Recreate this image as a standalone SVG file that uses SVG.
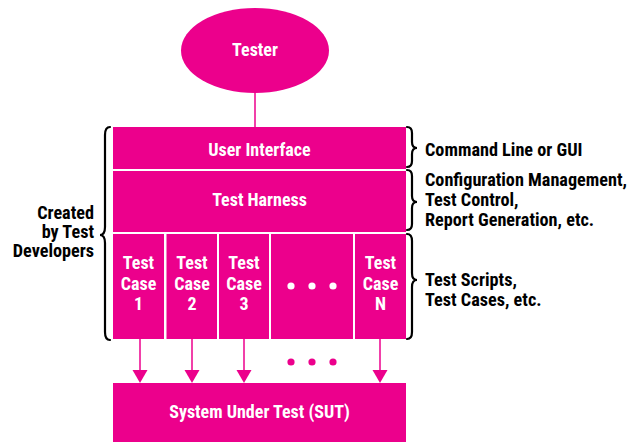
<svg xmlns="http://www.w3.org/2000/svg" width="634" height="442" viewBox="0 0 634 442">
<defs>
<style>
.box{fill:#EC008C;}
.w{fill:#fff;font-family:"Liberation Sans Narrow","Roboto Condensed","DejaVu Sans Condensed",sans-serif;font-weight:bold;font-size:18px;text-anchor:middle;}
.k{fill:#000;font-family:"Liberation Sans Narrow","Roboto Condensed","DejaVu Sans Condensed",sans-serif;font-weight:bold;font-size:18.2px;}
.conn{stroke:#EC008C;stroke-width:1.5;fill:none;}
.brace{stroke:#000;stroke-width:2.2;fill:none;stroke-linecap:round;}
.dot{fill:#fff;}
.pdot{fill:#EC008C;}
.head{fill:#EC008C;}
</style>
</defs>
<rect width="634" height="442" fill="#fff"/>

<g id="connectors">
<line class="conn" x1="255" y1="92" x2="255" y2="127"/>
<line x1="140" y1="339" x2="140" y2="370" class="conn"/>
<path class="head" d="M132.5 370 L147.5 370 L140 383 Z"/>
<line x1="192" y1="339" x2="192" y2="370" class="conn"/>
<path class="head" d="M184.5 370 L199.5 370 L192 383 Z"/>
<line x1="244" y1="339" x2="244" y2="370" class="conn"/>
<path class="head" d="M236.5 370 L251.5 370 L244 383 Z"/>
<line x1="380" y1="339" x2="380" y2="370" class="conn"/>
<path class="head" d="M372.5 370 L387.5 370 L380 383 Z"/>
<circle class="pdot" cx="291" cy="362" r="3.6"/>
<circle class="pdot" cx="312" cy="362" r="3.6"/>
<circle class="pdot" cx="333" cy="362" r="3.6"/>
</g>

<g id="tester">
<ellipse class="box" cx="255" cy="50.5" rx="74" ry="42.5"/>
<text class="w" x="255" y="56">Tester</text>
</g>

<g id="user-interface">
<rect class="box" x="113" y="127" width="293" height="42"/>
<text class="w" x="259.5" y="156">User Interface</text>
</g>

<g id="test-harness">
<rect class="box" x="113" y="171" width="293" height="61"/>
<text class="w" x="259.5" y="206">Test Harness</text>
</g>

<g id="test-case-1">
<rect class="box" x="113" y="234" width="51" height="105"/>
<text class="w" x="138.5" y="268.5">Test</text>
<text class="w" x="138.5" y="289.5">Case</text>
<text class="w" x="138.5" y="310">1</text>
</g>
<g id="test-case-2">
<rect class="box" x="166.5" y="234" width="50.5" height="105"/>
<text class="w" x="192" y="268.5">Test</text>
<text class="w" x="192" y="289.5">Case</text>
<text class="w" x="192" y="310">2</text>
</g>
<g id="test-case-3">
<rect class="box" x="219" y="234" width="50" height="105"/>
<text class="w" x="244" y="268.5">Test</text>
<text class="w" x="244" y="289.5">Case</text>
<text class="w" x="244" y="310">3</text>
</g>
<g id="test-case-more">
<rect class="box" x="271" y="234" width="82" height="105"/>
<circle class="dot" cx="291" cy="286" r="3.6"/>
<circle class="dot" cx="312" cy="286" r="3.6"/>
<circle class="dot" cx="333" cy="286" r="3.6"/>
</g>
<g id="test-case-n">
<rect class="box" x="355" y="234" width="51" height="105"/>
<text class="w" x="380.5" y="268.5">Test</text>
<text class="w" x="380.5" y="289.5">Case</text>
<text class="w" x="380.5" y="310">N</text>
</g>

<g id="sut">
<rect class="box" x="113" y="383" width="293" height="59"/>
<text class="w" x="259.5" y="418">System Under Test (SUT)</text>
</g>

<g id="brace-left">
<path class="brace" d="M110 127 Q105 127 105 135 L105 227 Q105 235 100 235 Q105 235 105 243 L105 332 Q105 340 110 340"/>
<text class="k" x="94" y="219" text-anchor="end">Created</text>
<text class="k" x="94" y="238" text-anchor="end">by Test</text>
<text class="k" x="94" y="257" text-anchor="end">Developers</text>
</g>

<g id="brace-ui">
<path class="brace" d="M407 127 Q412 127 412 133 L412 142 Q412 148 417 148 Q412 148 412 154 L412 161 Q412 167 407 167"/>
<text class="k" x="425" y="156">Command Line or GUI</text>
</g>

<g id="brace-harness">
<path class="brace" d="M407 170 Q412 170 412 176 L412 196 Q412 202 417 202 Q412 202 412 208 L412 224 Q412 230 407 230"/>
<text class="k" x="425" y="186">Configuration Management,</text>
<text class="k" x="425" y="206">Test Control,</text>
<text class="k" x="425" y="226">Report Generation, etc.</text>
</g>

<g id="brace-cases">
<path class="brace" d="M407 234 Q412 234 412 241 L412 273 Q412 280 417 280 Q412 280 412 287 L412 332 Q412 339 407 339"/>
<text class="k" x="425" y="286">Test Scripts,</text>
<text class="k" x="425" y="305.5">Test Cases, etc.</text>
</g>
</svg>
